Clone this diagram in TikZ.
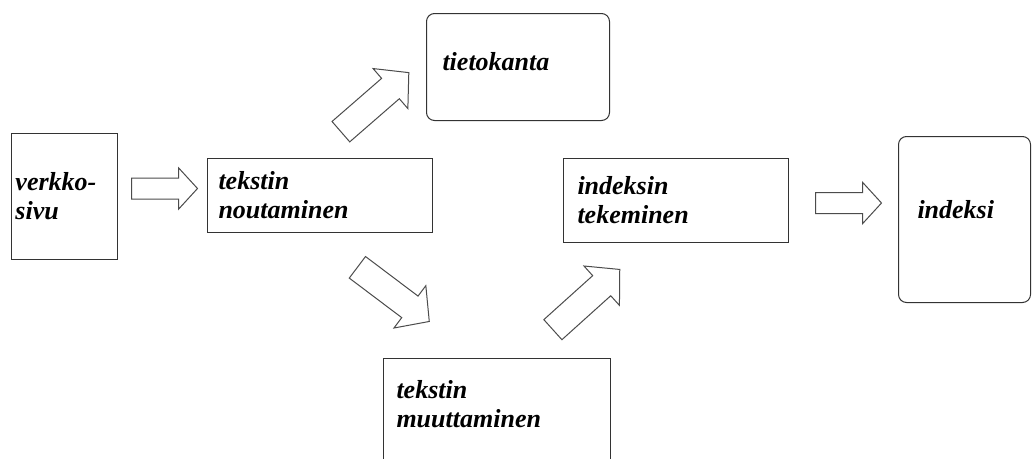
\documentclass[tikz,border=0pt]{standalone}
\usepackage{fontspec}
\setmainfont{Liberation Serif}
\usetikzlibrary{shapes.arrows}

\tikzstyle{pixel}=[x=1pt,y=-1pt]
\tikzstyle{laatikko}=[draw=black!80, line width=1pt, anchor=north west, align=left,
	inner ysep=0pt, font=\fontsize{26}{29}\selectfont\bfseries\itshape]
\tikzstyle{nuoli}=[single arrow, draw=black!70, line width=1pt, inner xsep=0pt,
	anchor=tail, single arrow tip angle=95]
\tikzstyle{lyhyt}=[nuoli, inner ysep=10pt, single arrow head extend=10pt, minimum height=66pt]
\tikzstyle{pitka}=[nuoli, inner ysep=13pt, single arrow head extend=13pt, minimum height=90pt]

\begin{document}
\begin{tikzpicture}[pixel]
	\clip (0,0) rectangle (1033,458);
	\fill[white] (0,0) rectangle (1033,458);
%
	\node[laatikko, inner xsep=4pt, text width=98pt, minimum height=126pt]
		(verkkosivu) at (11,133) {verkko-\\sivu};
	\node[laatikko, inner xsep=11pt, text width=203pt, minimum height=74pt]
		(noutaminen) at (207,158) {tekstin\\noutaminen};
	\node[laatikko, rounded corners=8pt, inner xsep=16pt, text width=151pt, minimum height=107pt,
		text depth=12pt] (tietokanta) at (426,13) {tietokanta};
	\node[laatikko, inner xsep=13pt, inner ysep=22pt, text width=201pt, text depth=70pt]
		(muuttaminen) at (383,358) {tekstin\\muuttaminen};
	\node[laatikko, inner xsep=14pt, text width=197pt, minimum height=84pt]
		(tekeminen) at (563,158) {indeksin\\tekeminen};
	\node[laatikko, rounded corners=8pt, inner xsep=19pt, text width=94pt, minimum height=166pt,
		text depth=20pt] (indeksi) at (898,136) {indeksi};
%
	\node[lyhyt] (nuoli1) at (131,188.5) {};
	\node[pitka, rotate=41] (nuoli2) at (340.5,132) {};
	\node[pitka, rotate=-37] (nuoli3) at (357,267) {};
	\node[pitka, rotate=42] (nuoli4) at (552.5,330) {};
	\node[lyhyt] (nuoli5) at (815,203) {};
\end{tikzpicture}
\end{document}
